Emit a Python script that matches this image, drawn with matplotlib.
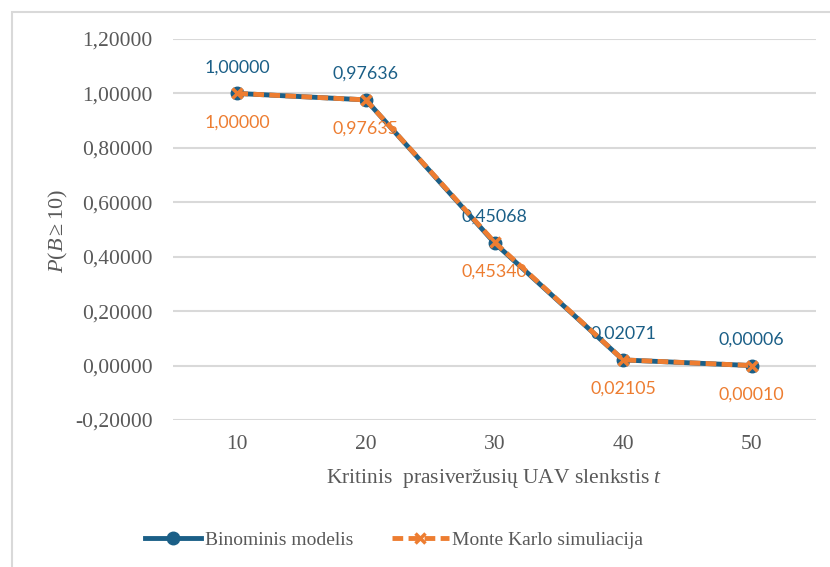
import matplotlib.pyplot as plt
from matplotlib.ticker import FuncFormatter
from matplotlib.patches import Rectangle
from matplotlib.lines import Line2D

plt.rcParams['mathtext.fontset'] = 'custom'
plt.rcParams['mathtext.rm'] = 'Liberation Serif'
plt.rcParams['mathtext.it'] = 'Liberation Serif:italic'

# threshold values and the two probability series
thresholds = ['10', '20', '30', '40', '50']
binom = [1.00000, 0.97636, 0.45068, 0.02071, 0.00006]
monte = [1.00000, 0.97635, 0.45340, 0.02105, 0.00010]
yticks = [-0.2, 0.0, 0.2, 0.4, 0.6, 0.8, 1.0, 1.2]

blue = '#1b5f87'
orange = '#ed7d31'
grey = '#595959'

def comma(v, pos=None):
    return ('%.5f' % v).replace('.', ',')

fig = plt.figure(figsize=(8.3, 5.67), dpi=100)
W, H = 830, 567
# chart border
fig.patches.append(Rectangle((12 / W, -0.1), 1.0, (H - 12) / H + 0.1,
                             transform=fig.transFigure, fill=False,
                             edgecolor='#d9d9d9', lw=1.5))

x0, x1, ytop, ybot = 173, 816, 39, 420
ax = fig.add_axes([x0 / W, 1 - ybot / H, (x1 - x0) / W, (ybot - ytop) / H])
ax.set_xlim(-0.5, 4.5)
ax.set_ylim(-0.2, 1.2)
ax.set_yticks(yticks)
ax.yaxis.set_major_formatter(FuncFormatter(comma))
ax.grid(axis='y', color='#d9d9d9', lw=1.5)
ax.set_axisbelow(True)
for s in ax.spines.values():
    s.set_visible(False)
ax.tick_params(length=0, labelsize=15.5, labelcolor=grey, pad=14.5)
ax.tick_params(axis='x', pad=11)

xs = range(len(thresholds))
ax.set_xticks(list(xs))
ax.set_xticklabels(thresholds)
for lab in ax.get_xticklabels() + ax.get_yticklabels():
    lab.set_fontfamily('Liberation Serif')

ax.plot(xs, binom, color=blue, lw=3.5, marker='o', ms=9, zorder=3)
ax.plot(xs, monte, color=orange, lw=3.5, ls=(0, (2.2, 1.1)), marker='x',
        ms=7, mew=2.5, zorder=4)

for i in xs:
    ax.annotate(comma(binom[i]), (i, binom[i]), xytext=(0, 26),
                textcoords='offset pixels', ha='center', va='center',
                color=blue, fontsize=12.8, fontfamily='Lato')
    ax.annotate(comma(monte[i]), (i, monte[i]), xytext=(0, -29),
                textcoords='offset pixels', ha='center', va='center',
                color=orange, fontsize=12.8, fontfamily='Lato')

fig.text(58 / W, 1 - 231 / H, r'$P(B \geq 10)$', rotation=90, ha='center',
         va='center', fontsize=16, color=grey)
fig.text(494 / W, 1 - 478 / H, r'Kritinis  prasiveržusių UAV slenkstis $t$',
         ha='center', va='center', fontsize=15.5, color=grey,
         fontfamily='Liberation Serif')

handles = [
    Line2D([], [], color=blue, lw=3.5, marker='o', ms=9),
    Line2D([], [], color=orange, lw=3.5, ls=(0, (2.2, 1.1)), marker='x',
           ms=7, mew=2.5),
]
fig.legend(handles, ['Binominis modelis', 'Monte Karlo simuliacija'],
           loc='center', bbox_to_anchor=(394 / W, 1 - 540 / H), ncol=2,
           frameon=False, handlelength=2.9, columnspacing=2.0,
           handletextpad=0.2, prop={'family': 'Liberation Serif', 'size': 14},
           labelcolor=grey)

fig.savefig('out.png', dpi=100)
